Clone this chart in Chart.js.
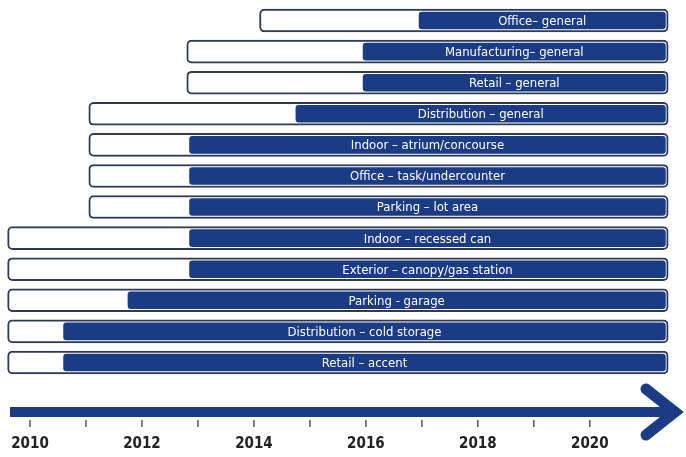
<!doctype html>
<html lang="en">
  <head>
    <meta charset="utf-8">
    <title>LED adoption timeline</title>
    <style>
      * { margin: 0; padding: 0; }
      body { background: #fff; overflow: hidden; }
    </style>
  </head>
  <body>
    <canvas id="myChart" width="686" height="457"></canvas>
    <script src="https://cdn.jsdelivr.net/npm/chart.js/dist/chart.umd.min.js"></script>
    <script>
    // rows, top to bottom
    const categories = [
      'Office\u2013 general',
      'Manufacturing\u2013 general',
      'Retail \u2013 general',
      'Distribution \u2013 general',
      'Indoor \u2013 atrium/concourse',
      'Office \u2013 task/undercounter',
      'Parking \u2013 lot area',
      'Indoor \u2013 recessed can',
      'Exterior \u2013 canopy/gas station',
      'Parking - garage',
      'Distribution \u2013 cold storage',
      'Retail \u2013 accent'
    ];
    // white (outlined) bar: start year
    const outlineStart = [2014.1, 2012.8, 2012.8, 2011.05, 2011.05, 2011.05, 2011.05, 2009.6, 2009.6, 2009.6, 2009.6, 2009.6];
    // filled bar: start year
    const fillStart = [2016.95, 2015.95, 2015.95, 2014.75, 2012.85, 2012.85, 2012.85, 2012.85, 2012.85, 2011.75, 2010.6, 2010.6];
    const outlineEnd = 2021.4;
    const fillEnd = 2021.35;
    // tick marks every year, labels on even years
    const tickYears = [2010, 2011, 2012, 2013, 2014, 2015, 2016, 2017, 2018, 2019, 2020];
    const labelYears = [2010, 2012, 2014, 2016, 2018, 2020];

    const navy = '#1b3b84';
    const narrow = '"Liberation Sans Narrow", "DejaVu Sans Condensed", sans-serif';

    // text inside the filled bars
    const barLabels = {
      id: 'barLabels',
      afterDatasetsDraw(chart) {
        const ctx = chart.ctx;
        const meta = chart.getDatasetMeta(0);
        ctx.save();
        ctx.fillStyle = '#ffffff';
        ctx.font = '13px ' + narrow;
        ctx.textAlign = 'center';
        ctx.textBaseline = 'middle';
        meta.data.forEach((bar, i) => {
          const cx = (bar.x + bar.base) / 2;
          ctx.fillText(categories[i], cx, bar.y + 1);
        });
        ctx.restore();
      }
    };

    // big time arrow + small tick marks
    const timeArrow = {
      id: 'timeArrow',
      afterDraw(chart) {
        const ctx = chart.ctx;
        const xs = chart.scales.x;
        const area = chart.chartArea;
        const y = area.bottom + 34;
        const tip = chart.width - 5;
        ctx.save();
        ctx.strokeStyle = navy;
        ctx.lineWidth = 10;
        ctx.lineCap = 'butt';
        ctx.beginPath();
        ctx.moveTo(area.left + 8, y);
        ctx.lineTo(tip - 6, y);
        ctx.stroke();
        ctx.lineWidth = 11;
        ctx.lineCap = 'round';
        ctx.lineJoin = 'miter';
        ctx.beginPath();
        ctx.moveTo(tip - 35, y - 23);
        ctx.lineTo(tip - 6, y);
        ctx.lineTo(tip - 35, y + 23);
        ctx.stroke();
        ctx.strokeStyle = '#555';
        ctx.lineWidth = 1.5;
        ctx.lineCap = 'butt';
        xs.ticks.forEach(t => {
          const px = xs.getPixelForValue(t.value);
          ctx.beginPath();
          ctx.moveTo(px, y + 8);
          ctx.lineTo(px, y + 15);
          ctx.stroke();
        });
        ctx.restore();
      }
    };

    const data = {
      labels: categories,
      datasets: [
        {
          label: 'filled',
          data: fillStart.map(s => [s, fillEnd]),
          backgroundColor: navy,
          borderWidth: 0,
          borderRadius: 3,
          borderSkipped: false,
          barThickness: 17,
          grouped: false,
          order: 0
        },
        {
          label: 'outline',
          data: outlineStart.map(s => [s, outlineEnd]),
          backgroundColor: '#ffffff',
          borderColor: '#303a52',
          borderWidth: 2,
          borderRadius: 5,
          borderSkipped: false,
          barThickness: 23,
          grouped: false,
          order: 1
        }
      ]
    };

    const config = {
      type: 'bar',
      data,
      options: {
        indexAxis: 'y',
        responsive: false,
        animation: false,
        layout: { padding: { left: 2, right: 1, top: 5, bottom: 2 } },
        plugins: {
          legend: { display: false },
          tooltip: { enabled: false }
        },
        scales: {
          x: {
            type: 'linear',
            min: 2009.5,
            max: 2021.7,
            afterBuildTicks: scale => {
              scale.ticks = tickYears.map(v => ({ value: v }));
            },
            afterFit: scale => {
              scale.paddingLeft = 0;
              scale.paddingRight = 0;
              scale.height = 77;
            },
            grid: { display: false },
            border: { display: false },
            ticks: {
              padding: 49,
              autoSkip: false,
              maxRotation: 0,
              color: '#222',
              font: { family: narrow, size: 15, weight: 'bold' },
              callback: v => labelYears.includes(v) ? String(v) : ''
            }
          },
          y: {
            display: false,
            offset: true
          }
        }
      },
      plugins: [barLabels, timeArrow]
    };

    const myChart = new Chart(document.getElementById('myChart'), config);
    </script>
  </body>
</html>
